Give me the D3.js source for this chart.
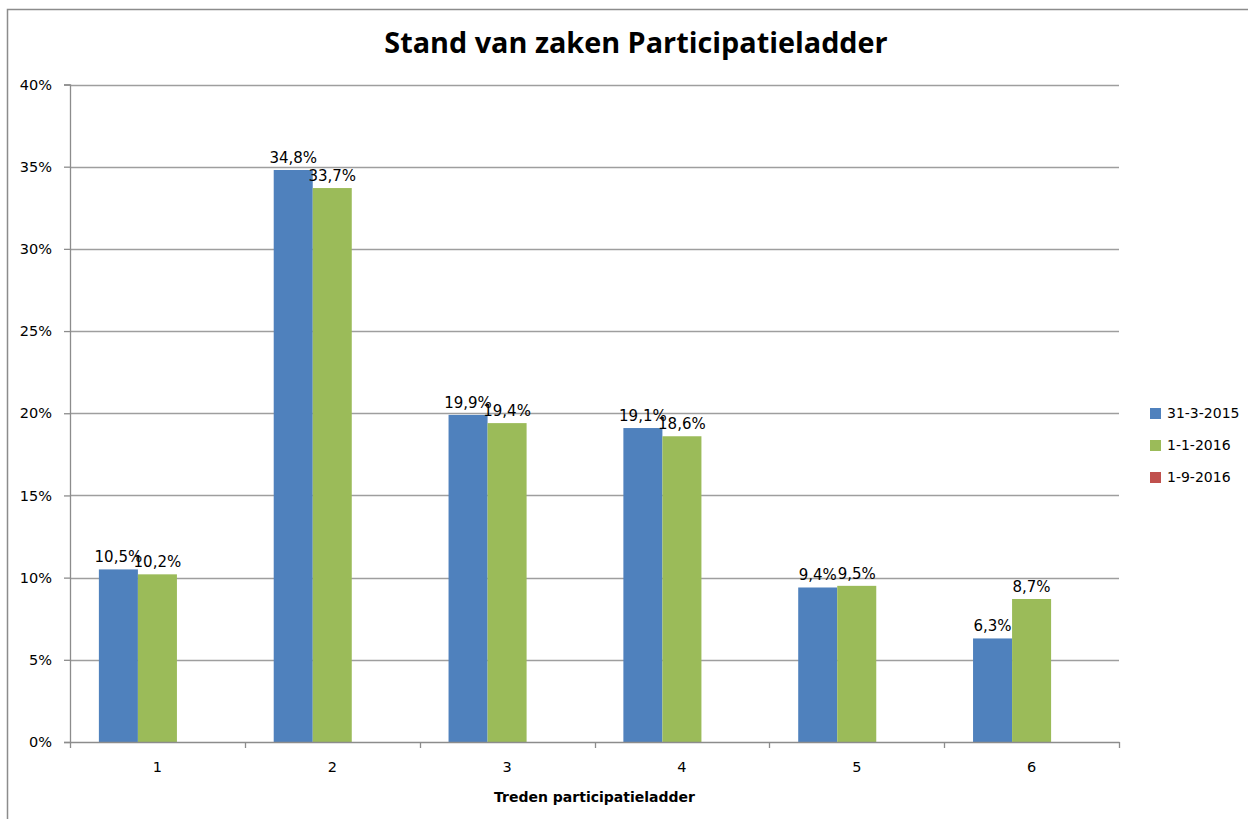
<!DOCTYPE html>
<html>
<head>
<meta charset="utf-8">
<script src="https://cdn.jsdelivr.net/npm/d3@7"></script>
<style>
  html, body { margin: 0; padding: 0; background: #fff; }
  svg { display: block; }
</style>
</head>
<body>
<svg id="chart" width="1248" height="819"></svg>
<script>
// Chart data
const categories = ["1", "2", "3", "4", "5", "6"];
const seriesNames = ["31-3-2015", "1-1-2016", "1-9-2016"];
const values2015 = [10.5, 34.8, 19.9, 19.1, 9.4, 6.3];
const values2016a = [10.2, 33.7, 19.4, 18.6, 9.5, 8.7];
const values2016b = [null, null, null, null, null, null];
const yTicks = [0, 5, 10, 15, 20, 25, 30, 35, 40];
const colors = ["#4F81BD", "#9BBB59", "#C0504D"];

const series = [values2015, values2016a, values2016b];

const nl = d3.formatLocale({ decimal: ",", thousands: ".", grouping: [3], currency: ["€", ""] });
const fmtLabel = v => nl.format(".1f")(v) + "%";

const svg = d3.select("#chart");
const font = "'DejaVu Sans', sans-serif";

// outer frame
svg.append("rect")
  .attr("x", 7.5).attr("y", 9.5)
  .attr("width", 1300).attr("height", 900)
  .attr("fill", "none").attr("stroke", "#8c8c8c").attr("stroke-width", 1.5);

const plot = { left: 70, right: 1119, top: 84.5, bottom: 742 };

const x0 = d3.scaleBand().domain(categories).range([plot.left, plot.right]).paddingInner(0).paddingOuter(0);
const x1 = d3.scaleBand().domain(d3.range(series.length)).range([0, x0.bandwidth()]).paddingInner(0).paddingOuter(0.74);
const y = d3.scaleLinear().domain([0, 40]).range([plot.bottom, plot.top]);

// horizontal gridlines
svg.append("g")
  .selectAll("line")
  .data(yTicks.filter(t => t > 0))
  .join("line")
  .attr("x1", plot.left).attr("x2", plot.right)
  .attr("y1", d => Math.round(y(d)) + 0.5).attr("y2", d => Math.round(y(d)) + 0.5)
  .attr("stroke", "#9e9e9e").attr("stroke-width", 1.3);

// bars
const groups = svg.append("g")
  .selectAll("g")
  .data(series)
  .join("g")
  .attr("fill", (d, i) => colors[i]);

groups.selectAll("rect")
  .data((d, si) => d.map((v, ci) => ({ v, ci, si })).filter(o => o.v != null))
  .join("rect")
  .attr("x", d => x0(categories[d.ci]) + x1(d.si))
  .attr("y", d => y(d.v))
  .attr("width", x1.bandwidth())
  .attr("height", d => y(0) - y(d.v));

// value labels
const labels = svg.append("g")
  .attr("font-family", font).attr("font-size", 15).attr("fill", "#000")
  .attr("text-anchor", "middle");
series.forEach((vals, si) => {
  labels.selectAll(null)
    .data(vals.map((v, ci) => ({ v, ci })).filter(o => o.v != null))
    .join("text")
    .attr("x", d => x0(categories[d.ci]) + x1(si) + x1.bandwidth() / 2)
    .attr("y", d => y(d.v) - 7)
    .text(d => fmtLabel(d.v));
});

// y axis
const yAxis = svg.append("g")
  .attr("transform", `translate(${plot.left},0)`)
  .call(d3.axisLeft(y).tickValues(yTicks).tickFormat(d => d + "%").tickSize(6).tickPadding(12));
yAxis.selectAll("path, line").attr("stroke", "#8c8c8c").attr("stroke-width", 1.3);
yAxis.selectAll("text").attr("font-family", font).attr("font-size", 14.5).attr("fill", "#000");

// x axis
const xAxis = svg.append("g")
  .attr("transform", `translate(0,${plot.bottom})`)
  .call(d3.axisBottom(x0).tickSize(0).tickPadding(20));
xAxis.select("path").attr("stroke", "#8c8c8c").attr("stroke-width", 1.3);
xAxis.selectAll("text").attr("font-family", font).attr("font-size", 14.5).attr("fill", "#000");
// category boundary ticks
svg.append("g")
  .selectAll("line")
  .data(categories.map(c => x0(c)).concat([plot.right]))
  .join("line")
  .attr("x1", d => Math.round(d) + 0.5).attr("x2", d => Math.round(d) + 0.5)
  .attr("y1", plot.bottom).attr("y2", plot.bottom + 6)
  .attr("stroke", "#8c8c8c").attr("stroke-width", 1.3);

// axis title
svg.append("text")
  .attr("x", (plot.left + plot.right) / 2).attr("y", 802)
  .attr("text-anchor", "middle")
  .attr("font-family", font).attr("font-size", 14).attr("font-weight", "bold")
  .text("Treden participatieladder");

// chart title
svg.append("text")
  .attr("x", 636).attr("y", 53)
  .attr("text-anchor", "middle")
  .attr("font-family", "'Open Sans', sans-serif").attr("font-size", 28.8).attr("font-weight", "bold")
  .text("Stand van zaken Participatieladder");

// legend
const legend = svg.append("g").attr("font-family", font).attr("font-size", 14);
const legendRows = legend.selectAll("g")
  .data(seriesNames)
  .join("g")
  .attr("transform", (d, i) => `translate(1150,${413 + i * 32})`);
legendRows.append("rect")
  .attr("x", 0).attr("y", -5).attr("width", 11).attr("height", 11)
  .attr("fill", (d, i) => colors[i]);
legendRows.append("text")
  .attr("x", 17).attr("y", 0).attr("dy", "0.35em")
  .text(d => d);
</script>
</body>
</html>
